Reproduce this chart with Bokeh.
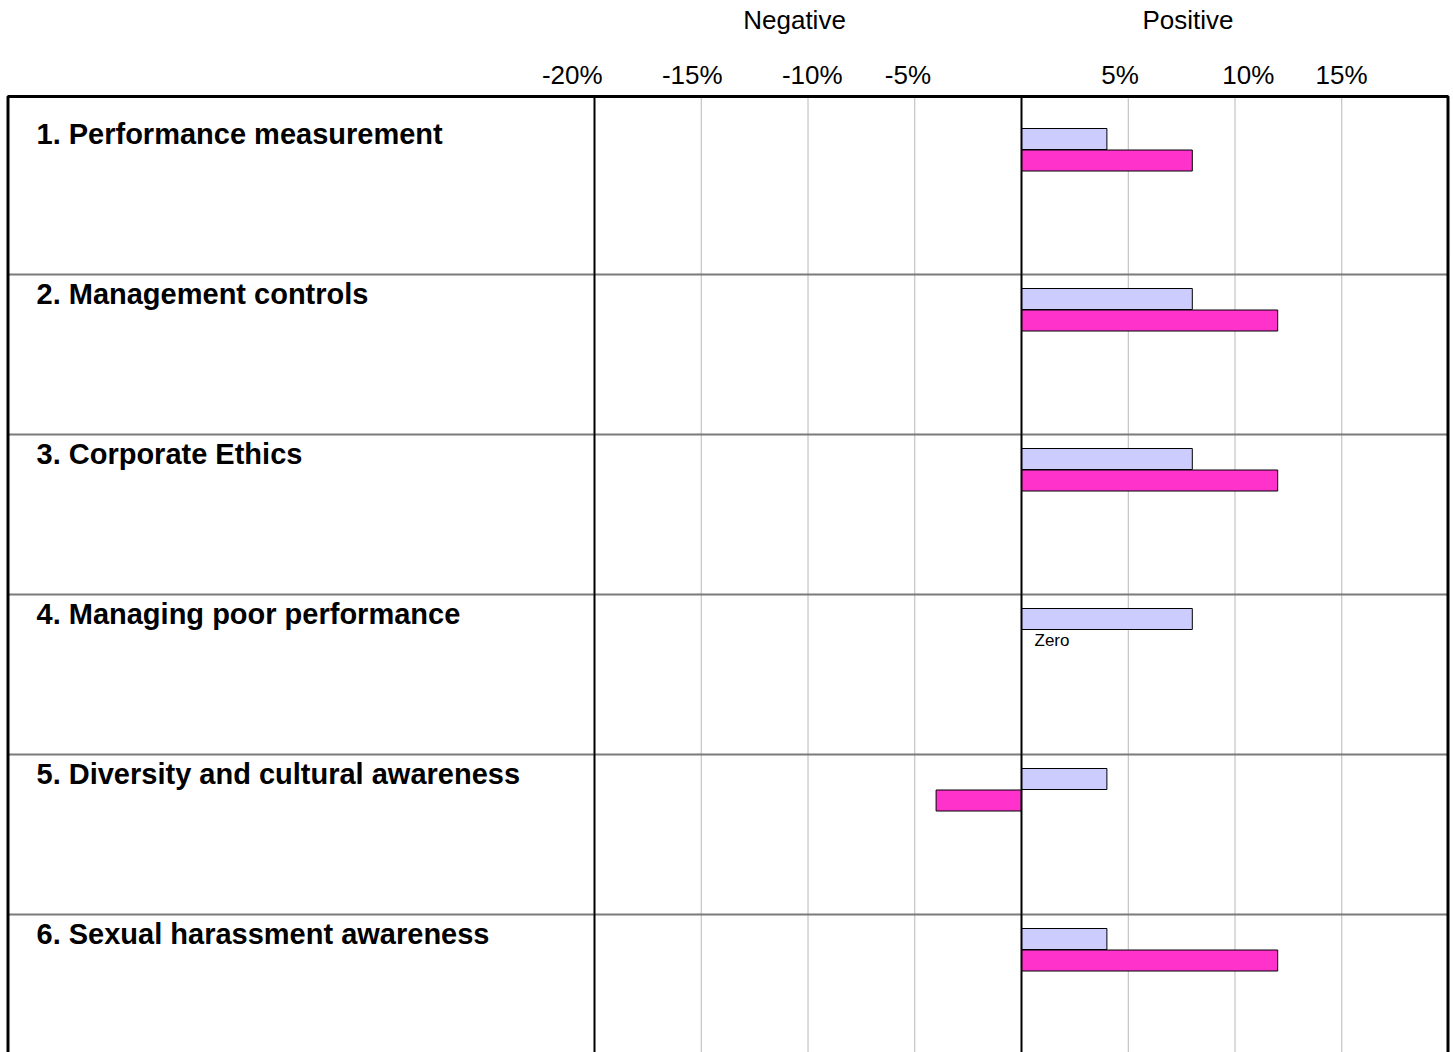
from bokeh.plotting import figure
from bokeh.models import Range1d, ColumnDataSource
from bokeh.embed import file_html
from bokeh.resources import INLINE
from bokeh.core.properties import value

# ---------------- data ----------------
categories = [
    "1. Performance measurement",
    "2. Management controls",
    "3. Corporate Ethics",
    "4. Managing poor performance",
    "5. Diversity and cultural awareness",
    "6. Sexual harassment awareness",
]
series_light = [4, 8, 8, 8, 4, 4]       # lavender bars (%)
series_magenta = [8, 12, 12, 0, -4, 12]  # magenta bars (%)
tick_values = [-20, -15, -10, -5, 5, 10, 15]
tick_labels = ["-20%", "-15%", "-10%", "-5%", "5%", "10%", "15%"]
header_labels = ["Negative", "Positive"]
header_values = [-10.63, 7.8]

# ---------------- layout ----------------
W, H = 1453, 1052
PX_X = 21.35          # pixels per percent
ZERO_PX = 1021        # pixel x of 0 %
ROW_PX = 160          # pixels per category row
ROW0_PX = 114         # pixel y of first row's top

def xd(px):
    return (px - ZERO_PX) / PX_X

def yd(py):
    return (py - ROW0_PX) / ROW_PX

TICK_NUDGE = [-1.04, -0.42, 0.20, -0.32, -0.38, 0.62, -0.01]
FONT = "Liberation Sans"

p = figure(width=W, height=H, output_backend="svg", toolbar_location=None,
           x_range=Range1d(xd(0), xd(W)), y_range=Range1d(yd(H), yd(0)),
           min_border=0, x_axis_location=None, y_axis_location=None,
           outline_line_color=None, background_fill_color="white",
           border_fill_color="white")
p.xgrid.visible = False
p.ygrid.visible = False

top_y = yd(96)
bot_y = yd(H + 5)
left_x = xd(7.5)
right_x = xd(1447.5)

# light vertical grid lines
grid_vals = [v for v in tick_values if v != -20]
p.segment(x0=grid_vals, y0=[top_y] * len(grid_vals), x1=grid_vals, y1=[bot_y] * len(grid_vals),
          line_color="#b8b8b8", line_width=1)

# row separators
n = len(categories)
seps = list(range(1, n))
p.segment(x0=[left_x] * len(seps), y0=seps, x1=[right_x] * len(seps), y1=seps,
          line_color="#7a7a7a", line_width=2)

# bars
rows = list(range(n))
src = ColumnDataSource(dict(
    y_light=[r + 0.153125 for r in rows],
    y_mag=[r + 0.2875 for r in rows],
    light=series_light,
    mag=series_magenta,
))
bar_h = 21 / ROW_PX
p.hbar(y="y_light", left=0, right="light", height=bar_h, source=src,
       fill_color="#CCCCFF", line_color="black", line_width=1)
p.hbar(y="y_mag", left=0, right="mag", height=bar_h, source=src,
       fill_color="#FF33CC", line_color="black", line_width=1)

# "Zero" annotations for zero-valued bars
zx = [0 for v in series_magenta if v == 0]
zy = [r + 0.2875 for r, v in zip(rows, series_magenta) if v == 0]
p.text(x=zx, y=zy, text=["Zero"] * len(zx), text_font=value(FONT),
       text_font_size="17px", text_baseline="middle", text_align="left",
       x_offset=13, text_color="black")

# thick black verticals at -20 % and 0 %
p.segment(x0=[-20, 0], y0=[top_y, top_y], x1=[-20, 0], y1=[bot_y, bot_y],
          line_color="black", line_width=2)

# frame
p.line(x=[left_x, left_x, right_x, right_x], y=[bot_y, top_y, top_y, bot_y],
       line_color="black", line_width=3)

# category labels
p.text(x=[xd(36)] * n, y=[r + 0.185 - 10 / ROW_PX for r in rows], text=categories,
       text_font=value(FONT), text_font_style="bold", text_font_size="29px",
       text_baseline="alphabetic", text_align="left", text_color="black")

# tick labels
p.text(x=[t + d for t, d in zip(tick_values, TICK_NUDGE)], y=[yd(74)] * len(tick_values),
       text=tick_labels, text_font=value(FONT), text_font_size="26px",
       text_baseline="alphabetic", text_align="center", text_color="black")

# header labels
p.text(x=header_values, y=[yd(19)] * 2, text=header_labels,
       text_font=value(FONT), text_font_size="26px",
       text_baseline="alphabetic", text_align="center", text_color="black")

open("out.html", "w").write(file_html(p, INLINE))
